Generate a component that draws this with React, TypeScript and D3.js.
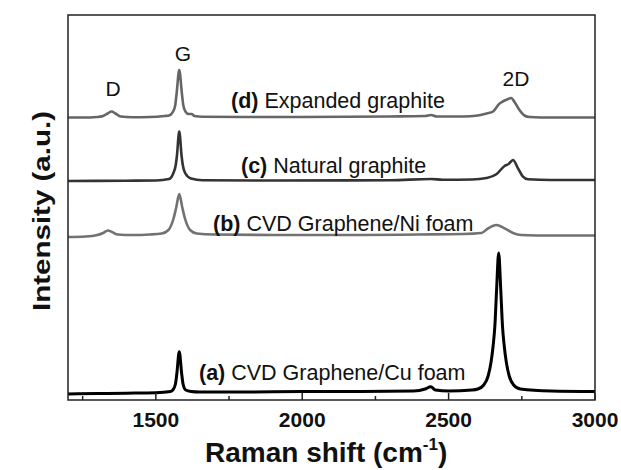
import React from 'react';
import * as d3 from 'd3';

// Raman shift (cm-1) and intensity above each trace's own baseline (a.u.)
const shiftD = [1200, 1250, 1300, 1320, 1335, 1349, 1362, 1380, 1420, 1480, 1530, 1545, 1559, 1566, 1571, 1580, 1589, 1594, 1601, 1612, 1622, 1632, 1660, 1800, 2000, 2300, 2420, 2440, 2460, 2550, 2600, 2630, 2652, 2674, 2685, 2700, 2714, 2725, 2742, 2759, 2777, 2850, 3000];
const valueD = [0, 0, 0.5, 1.5, 4, 6, 4, 1, 0.3, 0.5, 1.5, 2, 6, 12, 24, 47.5, 24, 12, 6, 3.5, 3.5, 1.5, 0.8, 0.5, 0.5, 1, 1.5, 2.5, 1, 1, 2, 4, 6, 14, 16, 18, 19.5, 15.5, 7.5, 2, 0.5, 0, 0];

const shiftC = [1200, 1400, 1500, 1545, 1560, 1568, 1572, 1580, 1588, 1592, 1600, 1620, 1660, 1900, 2300, 2440, 2480, 2580, 2629, 2663, 2691, 2705, 2720, 2737, 2754, 2771, 2850, 3000];
const valueC = [0, 0.3, 0.5, 2, 8, 16, 25, 49.5, 25, 16, 8, 2.5, 0.7, 0.5, 0.8, 2, 1.2, 1.5, 3, 6.7, 15, 17, 21, 12.7, 4.3, 1.7, 1, 1];

const shiftB = [1200, 1260, 1300, 1320, 1336, 1350, 1370, 1420, 1480, 1520, 1543, 1560, 1570, 1580, 1590, 1600, 1617, 1640, 1700, 1900, 2200, 2400, 2550, 2612, 2635, 2663, 2691, 2720, 2748, 2850, 3000];
const valueB = [0, 0.5, 2, 4, 6.5, 5, 2.5, 2, 2.5, 3.5, 7, 18, 30, 43, 30, 18, 7, 3.5, 2.5, 2, 2, 2.5, 3, 4, 8.7, 12, 8.7, 4, 2, 1.5, 1.5];

const shiftA = [1200, 1300, 1400, 1500, 1550, 1558, 1567, 1572, 1580, 1588, 1593, 1602, 1620, 1650, 1800, 2000, 2200, 2380, 2420, 2439, 2455, 2500, 2580, 2600, 2620, 2635, 2645, 2652, 2658, 2664, 2671, 2678, 2684, 2690, 2697, 2707, 2722, 2745, 2850, 3000];
const valueA = [0, 0.5, 0.8, 1.2, 2.5, 4, 10, 21, 42.3, 21, 10, 4, 2.5, 2, 2, 2.5, 2.5, 3, 5, 7.3, 4, 3, 4, 5, 9, 18, 32, 48, 68, 105, 141, 105, 68, 48, 32, 18, 9, 5, 3, 2.5];

// vertical stacking offsets of the four traces (a.u.)
const offsets = { a: 6, b: 163, c: 219, d: 282.5 };

const majorTicks = [1500, 2000, 2500, 3000];
const minorTicks = [1250, 1750, 2250, 2750];

const W = 621;
const H = 470;
const margin = { top: 15, right: 26, bottom: 70, left: 68 };
const font = "'Liberation Sans', Arial, Helvetica, sans-serif";

export default function App() {
  const innerW = W - margin.left - margin.right;
  const innerH = H - margin.top - margin.bottom;

  const x = d3.scaleLinear().domain([1200, 3000]).range([margin.left, margin.left + innerW]);
  const y = d3.scaleLinear().domain([0, 385]).range([margin.top + innerH, margin.top]);

  const makePath = (shifts: number[], values: number[], off: number) => {
    const pts: [number, number][] = shifts.map((s, i) => [s, values[i] + off]);
    return d3.line<[number, number]>()
      .x(d => x(d[0]))
      .y(d => y(d[1]))
      .curve(d3.curveMonotoneX)(pts) || '';
  };

  const traces = [
    { key: 'd', path: makePath(shiftD, valueD, offsets.d), color: '#666666', width: 2.6 },
    { key: 'c', path: makePath(shiftC, valueC, offsets.c), color: '#333333', width: 2.6 },
    { key: 'b', path: makePath(shiftB, valueB, offsets.b), color: '#727272', width: 2.6 },
    { key: 'a', path: makePath(shiftA, valueA, offsets.a), color: '#000000', width: 3 },
  ];

  const bottom = margin.top + innerH;

  return (
    <svg width={W} height={H} style={{ position: 'absolute', left: 0, top: 0, background: '#fff' }} fontFamily={font}>
      {traces.map(t => (
        <path key={t.key} d={t.path} fill="none" stroke={t.color} strokeWidth={t.width} strokeLinejoin="round" />
      ))}

      {/* frame */}
      <rect x={margin.left} y={margin.top} width={innerW} height={innerH} fill="none" stroke="#222" strokeWidth={1.5} />

      {/* ticks point inward */}
      {majorTicks.map(t => (
        <line key={'M' + t} x1={x(t)} x2={x(t)} y1={bottom} y2={bottom - 7} stroke="#222" strokeWidth={1.5} />
      ))}
      {minorTicks.map(t => (
        <line key={'m' + t} x1={x(t)} x2={x(t)} y1={bottom} y2={bottom - 4} stroke="#222" strokeWidth={1.5} />
      ))}
      {majorTicks.map(t => (
        <text key={'L' + t} x={x(t)} y={427} textAnchor="middle" fontSize={21} fontWeight="bold" fill="#111">{t}</text>
      ))}

      {/* peak names */}
      <text x={113} y={95.5} textAnchor="middle" fontSize={21} fill="#111">D</text>
      <text x={183} y={61} textAnchor="middle" fontSize={21} fill="#111">G</text>
      <text x={516} y={86} textAnchor="middle" fontSize={21} fill="#111">2D</text>

      {/* trace labels */}
      <text x={231} y={108} fontSize={21.5} fill="#111"><tspan fontWeight="bold">(d)</tspan> Expanded graphite</text>
      <text x={241} y={173} fontSize={21.5} fill="#111"><tspan fontWeight="bold">(c)</tspan> Natural graphite</text>
      <text x={213} y={231} fontSize={21.5} fill="#111"><tspan fontWeight="bold">(b)</tspan> CVD Graphene/Ni foam</text>
      <text x={199} y={380} fontSize={21.5} fill="#111"><tspan fontWeight="bold">(a)</tspan> CVD Graphene/Cu foam</text>

      {/* axis titles */}
      <text x={205} y={462} fontSize={28} fontWeight="bold" fill="#111">
        Raman shift (cm<tspan fontSize={17} dy={-12}>-1</tspan><tspan dy={12}>)</tspan>
      </text>
      <text transform="translate(50,211) rotate(-90)" textAnchor="middle" fontSize={24} fontWeight="bold" fill="#111"
        textLength={200} lengthAdjust="spacingAndGlyphs">Intensity (a.u.)</text>
    </svg>
  );
}
